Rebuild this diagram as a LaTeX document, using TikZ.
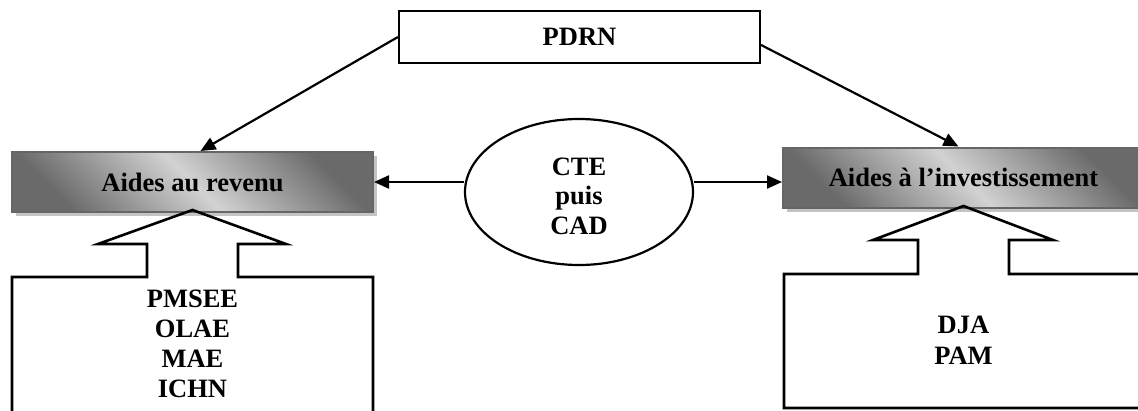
\documentclass[tikz,border=0pt]{standalone}
\usepackage{fontspec}
\setmainfont{Liberation Serif}
\usetikzlibrary{arrows.meta,shapes.geometric,shadows}
\definecolor{boxdark}{HTML}{6A6A6A}
\definecolor{boxlight}{HTML}{D2D2D2}
\definecolor{boxedge}{HTML}{666666}
\definecolor{shadowgray}{HTML}{C4C4C4}
\begin{document}
\begin{tikzpicture}[x=1pt,y=-1pt,
  lbl/.style={font=\fontsize{26.5}{30}\selectfont\bfseries},
  plainbox/.style={draw, line width=2.2pt, minimum width=361pt, minimum height=52pt, inner sep=0pt, lbl},
  gradbox/.style={draw=boxedge, line width=2pt, minimum width=361pt, minimum height=60pt, inner sep=0pt, lbl,
    left color=boxdark, right color=boxdark, middle color=boxlight, shading angle=135,
    drop shadow={shadow xshift=4pt, shadow yshift=-4pt, fill=shadowgray, opacity=1}},
  oval/.style={draw, ellipse, line width=2.2pt, minimum width=228pt, minimum height=146pt, inner sep=0pt},
  txt/.style={lbl, inner sep=0pt, anchor=base},
  arr/.style={line width=2.2pt, -{Triangle[length=15pt,width=13pt]}},
  blockarrow/.style={draw, line width=2.6pt, line join=miter},
]
\useasboundingbox (0,0) rectangle (1138,410);

% boxes
\node[plainbox] (pdrn) at (579.5,37) {PDRN};
\node[gradbox] (rev) at (192.5,182) {Aides au revenu};
\node[gradbox] (inv) at (963.5,177.5) {Aides à l’investissement};
\node[oval] (ell) at (579,192) {};

% ellipse text
\node[txt] (cte) at (579,175) {CTE};
\node[txt] (puis) at (579,204.5) {puis};
\node[txt] (cad) at (579,234) {CAD};

% connectors
\draw[arr] (pdrn.west) -- ([xshift=8pt]rev.north);
\draw[arr] ([yshift=-8pt]pdrn.east) -- ([xshift=-5pt]inv.north);
\draw[arr] ([yshift=10pt]ell.west) -- ([yshift=10pt]ell.west -| rev.east);
\draw[arr] ([yshift=10pt]ell.east) -- ([yshift=10pt]ell.east -| inv.west);

% block arrows
\draw[blockarrow] (12,420) -- (12,277) -- (147,277) -- (147,244) -- (98,244) -- (192.5,210)
  -- (286,244) -- (238,244) -- (238,277) -- (373,277) -- (373,420);
\draw[blockarrow] (1150,408) -- (784,408) -- (784,274) -- (918,274) -- (918,240) -- (873,240)
  -- (963.5,206) -- (1053,240) -- (1009,240) -- (1009,274) -- (1150,274);

% block texts
\node[txt] (pmsee) at (192.5,307) {PMSEE};
\node[txt] (olae) at (192.5,337) {OLAE};
\node[txt] (mae) at (192.5,367) {MAE};
\node[txt] (ichn) at (192.5,397) {ICHN};
\node[txt] (dja) at (963.5,333) {DJA};
\node[txt] (pam) at (963.5,364) {PAM};
\end{tikzpicture}
\end{document}
